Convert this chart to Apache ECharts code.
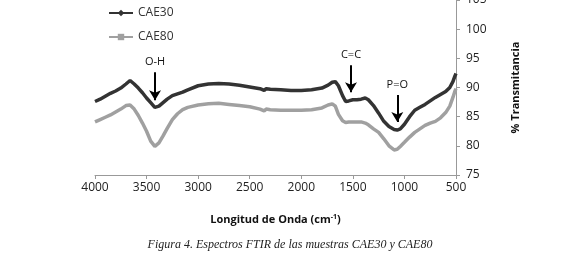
<!DOCTYPE html>
<html>
<head>
<meta charset="utf-8">
<script src="https://cdn.jsdelivr.net/npm/echarts@6/dist/echarts.min.js"></script>
<style>
  html, body { margin: 0; padding: 0; background: #fff; }
  #main { width: 580px; height: 257px; }
</style>
</head>
<body>
<div id="main"></div>
<script>
// wavenumbers (cm-1) and % transmittance
var wavenumbers = [4000, 3950, 3900, 3850, 3800, 3750, 3700, 3660, 3620, 3580, 3540, 3500, 3460, 3420, 3380, 3340, 3300, 3250, 3200, 3150, 3100,
    3000, 2900, 2800, 2700, 2600, 2500, 2400, 2360, 2340, 2300, 2200, 2100, 2000, 1900, 1800, 1740, 1700, 1670, 1640, 1600, 1570, 1540,
    1500, 1460, 1420, 1380, 1350, 1300, 1250, 1200, 1150, 1100, 1070, 1040, 1000, 950, 900, 850, 800, 750, 700, 650, 600, 560, 530, 510, 500];
var cae30 = [87.6, 88.0, 88.5, 89.0, 89.4, 89.9, 90.6, 91.2, 90.6, 89.9, 89.1, 88.2, 87.4, 86.6, 86.8, 87.4, 88.0, 88.6, 88.9, 89.2, 89.6,
    90.3, 90.6, 90.7, 90.6, 90.4, 90.1, 89.8, 89.5, 89.8, 89.7, 89.6, 89.5, 89.5, 89.6, 89.9, 90.4, 90.9, 91.0, 90.3, 88.6, 87.6, 87.7,
    87.9, 87.9, 88.0, 88.2, 87.9, 86.9, 85.6, 84.2, 83.3, 82.8, 82.7, 82.9, 83.7, 85.0, 86.1, 86.6, 87.1, 87.7, 88.3, 88.8, 89.3, 90.0, 91.0, 92.0, 92.4];
var cae80 = [84.1, 84.5, 84.9, 85.3, 85.8, 86.3, 86.9, 87.0, 86.3, 85.2, 83.9, 82.5, 80.8, 79.9, 80.5, 81.7, 83.0, 84.5, 85.5, 86.2, 86.6,
    87.0, 87.2, 87.3, 87.1, 86.9, 86.7, 86.3, 86.0, 86.3, 86.2, 86.1, 86.1, 86.1, 86.2, 86.5, 87.0, 87.2, 86.8, 85.4, 84.3, 84.0, 84.1,
    84.1, 84.1, 84.1, 83.9, 83.6, 82.9, 82.3, 81.2, 80.0, 79.3, 79.4, 79.9, 80.6, 81.5, 82.3, 82.9, 83.5, 83.9, 84.2, 84.8, 85.7, 86.8, 88.3, 89.4, 89.8];
var seriesNames = ['CAE30', 'CAE80'];

// band annotations: label, wavenumber, arrow top, arrow tip
var bandLabels = ['O-H', 'C=C', 'P=O'];
var bandPos = [3418, 1518, 1069];
var bandTop = [92.6, 93.8, 88.7];
var bandTip = [87.8, 89.2, 84.1];

var myChart = echarts.init(document.getElementById('main'));

function pairs(xs, ys) {
    var out = [];
    for (var i = 0; i < xs.length; i++) {
        out.push([xs[i], ys[i]]);
    }
    return out;
}

var arrows = [];
for (var i = 0; i < bandLabels.length; i++) {
    arrows.push([
        { coord: [bandPos[i], bandTop[i]], name: bandLabels[i] },
        { coord: [bandPos[i], bandTip[i]] }
    ]);
}

var axisFont = 'Open Sans';

var option = {
    animation: false,
    title: {
        text: 'Figura 4. Espectros FTIR de las muestras CAE30 y CAE80',
        left: 'center',
        top: 234,
        textStyle: { fontFamily: 'Liberation Serif', fontStyle: 'italic', fontWeight: 'normal', fontSize: 12, color: '#222' }
    },
    legend: {
        orient: 'vertical',
        left: 103,
        top: 2,
        itemWidth: 24,
        itemHeight: 8,
        itemGap: 12,
        textStyle: { fontFamily: axisFont, fontSize: 12, color: '#333' },
        data: seriesNames
    },
    grid: { left: 95, right: 124, top: 0, bottom: 82, outerBoundsMode: 'none' },
    xAxis: {
        type: 'value',
        inverse: true,
        min: 500,
        max: 4000,
        interval: 500,
        name: 'Longitud de Onda (cm{sup|-1})',
        nameLocation: 'middle',
        nameGap: 38,
        nameTextStyle: {
            fontFamily: axisFont, fontWeight: 'bold', fontSize: 11, color: '#111',
            rich: { sup: { fontFamily: axisFont, fontWeight: 'bold', fontSize: 7, verticalAlign: 'top', padding: [0, 0, 6, 0] } }
        },
        axisLine: { lineStyle: { color: '#999' } },
        axisTick: { length: 4, lineStyle: { color: '#999' } },
        axisLabel: {
            fontFamily: axisFont, fontSize: 12, color: '#222', margin: 7,
            formatter: function (v) { return String(v); }
        },
        splitLine: { show: false }
    },
    yAxis: {
        type: 'value',
        position: 'right',
        min: 75,
        max: 105,
        interval: 5,
        name: '% Transmitancia',
        nameLocation: 'middle',
        nameRotate: 90,
        nameGap: 54,
        nameTextStyle: { fontFamily: axisFont, fontWeight: 'bold', fontSize: 11, color: '#111' },
        axisLine: { show: true, lineStyle: { color: '#999' } },
        axisTick: { show: true, length: 4, lineStyle: { color: '#999' } },
        axisLabel: { fontFamily: axisFont, fontSize: 12, color: '#222', margin: 10 },
        splitLine: { show: false }
    },
    series: [
        {
            name: seriesNames[0],
            type: 'line',
            data: pairs(wavenumbers, cae30),
            symbol: 'diamond',
            symbolSize: 6,
            showSymbol: false,
            lineStyle: { color: '#333', width: 3.5 },
            itemStyle: { color: '#333' },
            markLine: {
                silent: true,
                symbol: ['none', 'arrow'],
                symbolSize: [9, 10],
                lineStyle: { color: '#000', width: 2, type: 'solid' },
                label: { show: true, position: 'start', formatter: '{b}', fontFamily: axisFont, fontSize: 11, color: '#111' },
                data: arrows
            },
            z: 3
        },
        {
            name: seriesNames[1],
            type: 'line',
            data: pairs(wavenumbers, cae80),
            symbol: 'rect',
            symbolSize: 6,
            showSymbol: false,
            lineStyle: { color: '#a0a0a0', width: 3.5 },
            itemStyle: { color: '#a0a0a0' },
            z: 2
        }
    ]
};

myChart.setOption(option);
</script>
</body>
</html>
